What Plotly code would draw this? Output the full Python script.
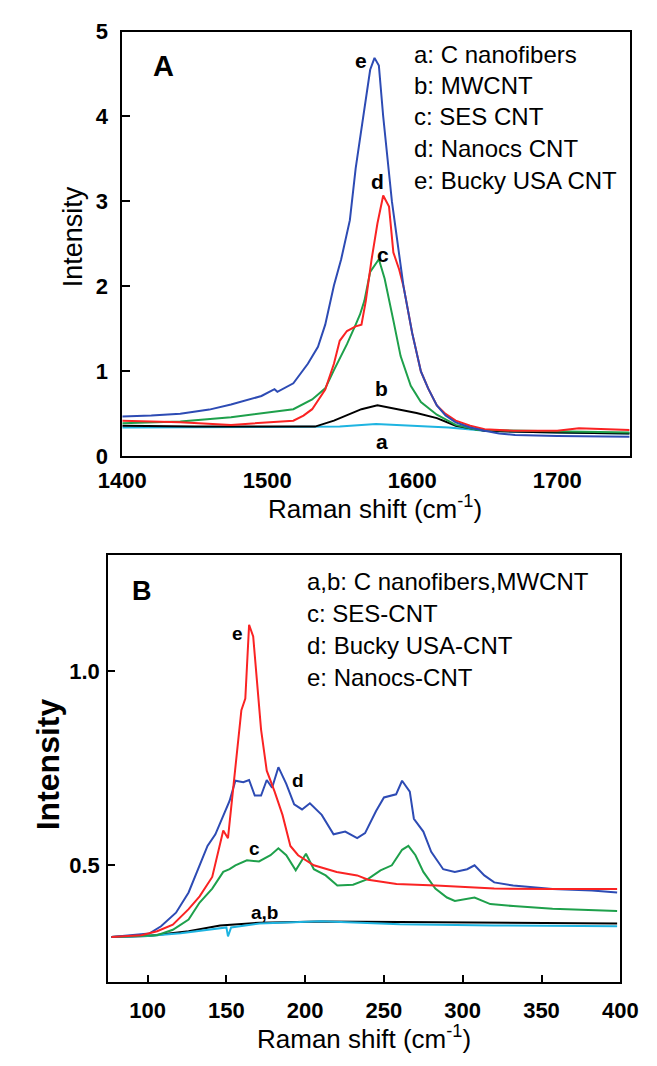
import plotly.graph_objects as go

# ---- panel A : G band (1400-1750 cm-1) ----
a_e_x = [1400, 1420, 1440, 1460, 1475, 1496, 1505, 1507, 1518, 1528, 1535, 1540, 1546, 1551, 1557, 1561, 1564,
         1568, 1571, 1574, 1577, 1580, 1586, 1590, 1594, 1600, 1606, 1611, 1617, 1623, 1630, 1640, 1650,
         1660, 1671, 1700, 1750]
a_e_y = [0.47, 0.48, 0.50, 0.55, 0.61, 0.71, 0.79, 0.76, 0.86, 1.09, 1.29, 1.55, 2.01, 2.32, 2.78, 3.39, 3.74,
         4.2, 4.55, 4.69, 4.6, 4.0, 3.0, 2.5, 2.0, 1.45, 1.0, 0.8, 0.6, 0.48, 0.4, 0.34, 0.30,
         0.27, 0.25, 0.24, 0.23]

a_d_x = [1400, 1440, 1475, 1518, 1525, 1531, 1540, 1546, 1550, 1555, 1561, 1565, 1568, 1572, 1576, 1580,
         1584, 1587, 1591, 1594, 1600, 1606, 1611, 1617, 1623, 1630, 1640, 1650, 1670, 1700, 1715, 1750]
a_d_y = [0.42, 0.40, 0.37, 0.42, 0.48, 0.555, 0.785, 1.09, 1.36, 1.475, 1.53, 1.55, 1.83, 2.32, 2.74, 3.07,
         2.94, 2.4, 2.2, 2.0, 1.45, 1.0, 0.8, 0.6, 0.5, 0.42, 0.36, 0.32, 0.30, 0.30, 0.33, 0.31]

a_c_x = [1400, 1440, 1475, 1496, 1518, 1531, 1540, 1546, 1555, 1561, 1564, 1567, 1571, 1577, 1581, 1587,
         1592, 1599, 1606, 1617, 1630, 1645, 1700, 1750]
a_c_y = [0.39, 0.41, 0.46, 0.51, 0.555, 0.67, 0.80, 1.015, 1.32, 1.55, 1.67, 1.83, 2.17, 2.32, 2.09, 1.60,
         1.18, 0.83, 0.64, 0.49, 0.37, 0.31, 0.29, 0.28]

a_b_x = [1400, 1450, 1500, 1533, 1546, 1561, 1565, 1576, 1590, 1603, 1617, 1630, 1650, 1700, 1750]
a_b_y = [0.36, 0.35, 0.35, 0.35, 0.42, 0.52, 0.555, 0.60, 0.55, 0.51, 0.45, 0.36, 0.30, 0.28, 0.27]

a_a_x = [1400, 1450, 1500, 1550, 1575, 1600, 1625, 1650, 1700, 1750]
a_a_y = [0.34, 0.34, 0.345, 0.35, 0.38, 0.36, 0.34, 0.30, 0.28, 0.27]

a_legend = ["a: C nanofibers", "b: MWCNT", "c: SES CNT", "d: Nanocs CNT", "e: Bucky USA CNT"]

# ---- panel B : RBM region (75-400 cm-1) ----
b_e_x = [77, 96, 106, 116, 126, 133, 141, 148, 151, 156, 159.5, 162, 164.4, 167, 169.4, 172, 175.6, 180.6,
         185.6, 190.6, 195.5, 205.5, 220, 233, 240, 258, 283, 320, 357, 398]
b_e_y = [0.315, 0.32, 0.33, 0.347, 0.387, 0.42, 0.47, 0.59, 0.57, 0.76, 0.90, 0.93, 1.12, 1.09, 0.97, 0.85,
         0.744, 0.69, 0.63, 0.55, 0.526, 0.50, 0.483, 0.474, 0.463, 0.452, 0.448, 0.44, 0.439, 0.439]

b_d_x = [77, 101, 108.5, 118, 126, 133, 138, 143, 148, 152, 155.7, 160.7, 164.4, 168, 172, 175.6, 179, 183,
         188, 193, 198, 203, 210.5, 218, 225.4, 233, 238, 245, 250, 257.7, 261.5, 266.4, 269, 275, 280,
         287.6, 295, 302.8, 307.5, 313.7, 320, 332, 357, 382, 398]
b_d_y = [0.315, 0.324, 0.343, 0.378, 0.43, 0.50, 0.55, 0.58, 0.63, 0.666, 0.718, 0.714, 0.72, 0.68, 0.68,
         0.72, 0.70, 0.753, 0.71, 0.657, 0.644, 0.66, 0.63, 0.58, 0.587, 0.57, 0.583, 0.64, 0.675, 0.683,
         0.718, 0.69, 0.62, 0.587, 0.535, 0.49, 0.483, 0.49, 0.50, 0.474, 0.456, 0.448, 0.439, 0.435, 0.43]

b_c_x = [77, 106, 116, 126, 133, 141, 148, 152, 155.7, 163, 170.7, 178, 183, 188, 194, 200.5, 205.5, 213,
         220.4, 230.4, 240, 247.8, 255, 261.5, 265.5, 270, 275, 282.6, 290, 295, 307.5, 317.5, 332, 357, 398]
b_c_y = [0.315, 0.32, 0.334, 0.36, 0.404, 0.44, 0.483, 0.49, 0.50, 0.513, 0.51, 0.526, 0.544, 0.526, 0.487,
         0.53, 0.49, 0.474, 0.448, 0.45, 0.465, 0.487, 0.50, 0.54, 0.55, 0.526, 0.483, 0.44, 0.417, 0.408,
         0.417, 0.40, 0.395, 0.388, 0.382]

b_b_x = [77, 100, 126, 146, 171, 210, 260, 320, 398]
b_b_y = [0.315, 0.318, 0.33, 0.345, 0.352, 0.355, 0.354, 0.352, 0.35]

b_a_x = [77, 100, 121, 146, 150, 151, 153, 171, 210, 260, 320, 398]
b_a_y = [0.315, 0.318, 0.325, 0.338, 0.34, 0.317, 0.34, 0.35, 0.356, 0.348, 0.345, 0.343]

b_legend = ["a,b: C nanofibers,MWCNT", "c: SES-CNT", "d: Bucky USA-CNT", "e: Nanocs-CNT"]

BLUE = "rgb(45,75,180)"
RED = "rgb(250,35,35)"
GREEN = "rgb(30,160,75)"
BLACK = "black"
CYAN = "rgb(30,180,225)"
FONT = "Arial, Liberation Sans, sans-serif"

fig = go.Figure()
for xs, ys, col in [(a_a_x, a_a_y, CYAN), (a_b_x, a_b_y, BLACK), (a_c_x, a_c_y, GREEN),
                    (a_d_x, a_d_y, RED), (a_e_x, a_e_y, BLUE)]:
    fig.add_trace(go.Scatter(x=xs, y=ys, mode="lines", line=dict(color=col, width=2),
                             xaxis="x", yaxis="y", showlegend=False))
for xs, ys, col in [(b_b_x, b_b_y, BLACK), (b_a_x, b_a_y, CYAN), (b_c_x, b_c_y, GREEN),
                    (b_d_x, b_d_y, BLUE), (b_e_x, b_e_y, RED)]:
    fig.add_trace(go.Scatter(x=xs, y=ys, mode="lines", line=dict(color=col, width=2),
                             xaxis="x2", yaxis="y2", showlegend=False))


def note(text, x, y, xref, yref, size, xanchor="center", angle=0):
    return dict(text=text, x=x, y=y, xref=xref, yref=yref, xanchor=xanchor, yanchor="middle",
                textangle=angle, showarrow=False, font=dict(size=size, color="black"))


ann = []
# panel letters
ann.append(note("<b>A</b>", 0.081, 0.92, "x domain", "y domain", 29))
ann.append(note("<b>B</b>", 0.066, 0.915, "x2 domain", "y2 domain", 27))
# legend text
for t, yy in zip(a_legend, [0.947, 0.874, 0.80, 0.724, 0.65]):
    ann.append(note(t, 0.572, yy, "x domain", "y domain", 24, xanchor="left"))
for t, yy in zip(b_legend, [0.938, 0.863, 0.787, 0.712]):
    ann.append(note(t, 0.384, yy, "x2 domain", "y2 domain", 24, xanchor="left"))
# curve labels
for t, xx, yy in [("e", 1564.7, 4.66), ("d", 1576, 3.24), ("c", 1580, 2.38), ("b", 1579, 0.795), ("a", 1579, 0.18)]:
    ann.append(note("<b>%s</b>" % t, xx, yy, "x", "y", 21))
for t, xx, yy in [("e", 157, 1.098), ("d", 195.5, 0.718), ("c", 168, 0.544), ("a,b", 174, 0.378)]:
    ann.append(note("<b>%s</b>" % t, xx, yy, "x2", "y2", 19))
# axis titles
ann.append(note("Raman shift (cm<sup>-1</sup>)", 375 / 657, 1 - 507 / 1066, "paper", "paper", 26))
ann.append(note("Intensity", 52 / 657, 1 - 230 / 1066, "paper", "paper", 27, angle=-90))
ann.append(note("Raman shift (cm<sup>-1</sup>)", 363 / 657, 1 - 1050 / 1066, "paper", "paper", 26))
ann.append(note("<b>Intensity</b>", 26 / 657, 1 - 770 / 1066, "paper", "paper", 32, angle=-90))

frame = dict(showline=True, linecolor="black", linewidth=2, mirror=True, showgrid=False, zeroline=False)
tickf = dict(size=22, color="black", weight="bold")

fig.update_layout(
    width=657, height=1066, margin=dict(l=0, r=0, t=0, b=0),
    paper_bgcolor="white", plot_bgcolor="white",
    font=dict(family=FONT, color="black"),
    xaxis=dict(domain=[105 / 657, 647 / 657], range=[1400, 1750], anchor="y",
               tickvals=[1400, 1500, 1600, 1700], ticks="", tickfont=tickf, ticklabelstandoff=3, **frame),
    yaxis=dict(domain=[1 - 455 / 1066, 1 - 20 / 1066], range=[0, 5], anchor="x",
               tickvals=[0, 1, 2, 3, 4, 5], ticks="inside", ticklen=8, tickwidth=2, tickcolor="black",
               tickfont=tickf, ticklabelstandoff=8, **frame),
    xaxis2=dict(domain=[90 / 657, 637 / 657], range=[75, 400], anchor="y2",
                tickvals=[100, 150, 200, 250, 300, 350, 400], ticks="inside", ticklen=7, tickwidth=2,
                tickcolor="black", tickfont=tickf, ticklabelstandoff=8, **frame),
    yaxis2=dict(domain=[1 - 993 / 1066, 1 - 556 / 1066], range=[0.2, 1.3], anchor="x2",
                tickvals=[0.5, 1.0], ticktext=["0.5", "1.0"], ticks="inside", ticklen=7, tickwidth=2,
                tickcolor="black", tickfont=tickf, ticklabelstandoff=2, **frame),
    annotations=ann,
)

fig.write_html("out.html", config={"displayModeBar": False},
               post_script="document.body.style.margin='0';")
